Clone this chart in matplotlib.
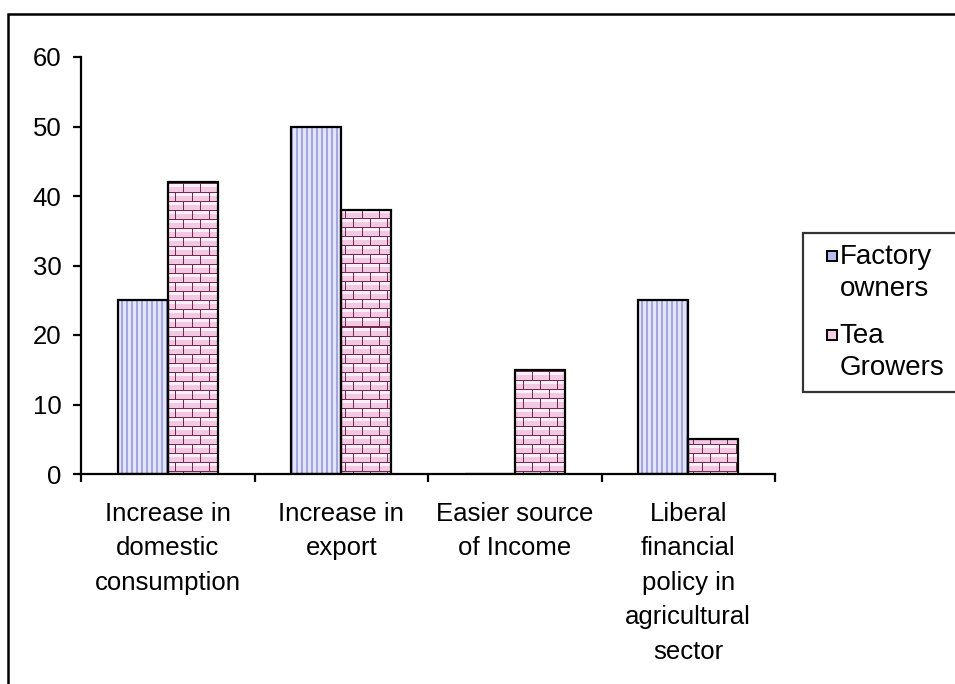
import numpy as np
import matplotlib
matplotlib.use("Agg")
import matplotlib.pyplot as plt
from matplotlib.patches import Patch, Rectangle
from matplotlib.legend_handler import HandlerPatch

plt.rcParams["font.family"] = ["Liberation Sans", "DejaVu Sans"]

categories = [
    "Increase in\ndomestic\nconsumption",
    "Increase in\nexport",
    "Easier source\nof Income",
    "Liberal\nfinancial\npolicy in\nagricultural\nsector",
]
series_names = ["Factory\nowners", "Tea\nGrowers"]
factory_owners = [25, 50, 0, 25]
tea_growers = [42, 38, 15, 5]
y_ticks = [0, 10, 20, 30, 40, 50, 60]

FS = 18.5
LEG_FS = 20
W, H, DPI = 955, 684, 100
fig = plt.figure(figsize=(W / DPI, H / DPI), dpi=DPI)
ax = fig.add_axes([81 / W, 1 - 474 / H, (775 - 81) / W, (474 - 57) / H])

# pixel size of the axes area, used for the fill textures
aw, ah = 775 - 81, 474 - 57


def stripe_texture(w, h):
    img = np.zeros((h, w, 3))
    light = np.array([0xe4, 0xe4, 0xf8]) / 255
    dark = np.array([0xa4, 0xa6, 0xe2]) / 255
    cols = np.arange(w)
    mask = (cols % 5) < 2
    img[:, :] = light
    img[:, mask] = dark
    return img


def brick_texture(w, h, bh=9, bw=17):
    img = np.zeros((h, w, 3))
    mortar = np.array([0x74, 0x28, 0x4e]) / 255
    face = np.array([0xf3, 0xc8, 0xe2]) / 255
    top = np.array([0xfd, 0xf0, 0xfa]) / 255
    for y in range(h):
        r = y // bh
        ry = y % bh
        off = (bw // 2) if r % 2 else 0
        for x in range(w):
            cx = (x + off) % bw
            if ry == 0 or cx == 0:
                img[y, x] = mortar
            elif ry <= 3:
                img[y, x] = top
            else:
                img[y, x] = face
    return img


stripes = stripe_texture(aw, ah)
bricks = brick_texture(aw, ah)

x = np.arange(len(categories))
bw = 0.288
bars_f = ax.bar(x - bw / 2, factory_owners, bw, facecolor="none",
                edgecolor="black", linewidth=1.6, zorder=3)
bars_t = ax.bar(x + bw / 2, tea_growers, bw, facecolor="none",
                edgecolor="black", linewidth=1.6, zorder=3)

for bars, tex in ((bars_f, stripes), (bars_t, bricks)):
    for b in bars:
        if b.get_height() <= 0:
            continue
        im = ax.imshow(tex, extent=(-0.5, 3.5, 0, 60), aspect="auto",
                       interpolation="nearest", zorder=2, origin="upper")
        im.set_clip_path(b)

ax.set_xlim(-0.5, 3.5)
ax.set_ylim(0, 60)

for s in ("top", "right"):
    ax.spines[s].set_visible(False)
for s in ("left", "bottom"):
    ax.spines[s].set_linewidth(1.6)
    ax.spines[s].set_color("black")

ax.set_yticks(y_ticks)
ax.set_yticklabels([str(v) for v in y_ticks])
ax.tick_params(axis="y", direction="out", length=6, width=1.6, pad=8,
               labelsize=FS)

# boundaries between categories carry the tick marks, labels sit between them
ax.set_xticks(np.arange(-0.5, 4.0, 1.0))
ax.set_xticklabels([])
ax.tick_params(axis="x", which="major", direction="out", length=6, width=1.6)
ax.set_xticks(x, minor=True)
ax.set_xticklabels(categories, minor=True, fontsize=FS, linespacing=1.55,
                   va="top", ha="center")
ax.tick_params(axis="x", which="minor", length=0, pad=20)


# small square key placed at the right of the handle box, level with the
# first line of its two-line label
KEY = 7.4
LIFT = 12.3


def square_key(legend, orig_handle, xdescent, ydescent, width, height,
               fontsize):
    return Rectangle((-xdescent + width - KEY, -ydescent + (height - KEY) / 2 + LIFT),
                     KEY, KEY)


handles = [
    Patch(facecolor="#b9bbeb", edgecolor="black", linewidth=1.4),
    Patch(facecolor="#f2cde4", edgecolor="black", linewidth=1.4),
]
leg = fig.legend(handles, series_names, loc="upper left",
                 bbox_to_anchor=(803 / W, 1 - 233 / H, 250 / W, 0.0),
                 mode="expand", frameon=True,
                 fancybox=False, edgecolor="black", fontsize=LEG_FS,
                 handlelength=0.82, handleheight=0.4, handletextpad=0.1,
                 labelspacing=0.76, borderpad=0.4, borderaxespad=0,
                 handler_map={Patch: HandlerPatch(patch_func=square_key)})
leg.get_frame().set_linewidth(1.6)
for t in leg.get_texts():
    t.set_linespacing(1.3)

# outer chart frame, running off the right and bottom edges
fig.add_artist(Rectangle((8 / W, -0.2), 1.2, 1.2 - 14 / H,
                         transform=fig.transFigure, fill=False,
                         edgecolor="black", linewidth=1.8))

fig.savefig("out.png", dpi=DPI)
